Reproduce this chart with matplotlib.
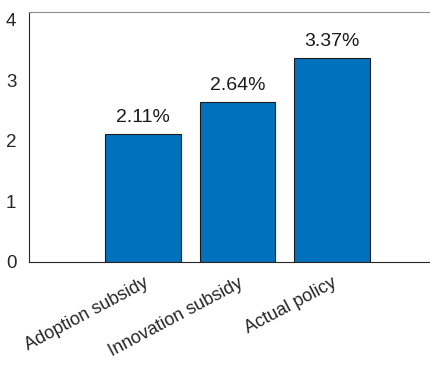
import matplotlib
matplotlib.use("Agg")
import matplotlib.pyplot as plt

# policy scenarios and values
labels = ["Adoption subsidy", "Innovation subsidy", "Actual policy"]
values = [2.11, 2.64, 3.37]
yticks = [0, 1, 2, 3, 4]

plt.rcParams['font.family'] = ['Liberation Sans', 'DejaVu Sans']

fig = plt.figure(figsize=(4.31, 3.66), dpi=100)
ax = fig.add_axes([29/431, 1 - 262/366, (445 - 29)/431, (262 - 12)/366])

x = [1, 2, 3]
ax.bar(x, values, width=0.8, color="#0072BD", edgecolor="#1a1a1a", linewidth=0.8)
for xi, v in zip(x, values):
    ax.text(xi, v + 0.14, "%.2f%%" % v, ha="center", va="bottom", fontsize=14, color="#1a1a1a")

ax.set_xlim(-0.21, 4.2)
ax.set_ylim(0, 4.13)
ax.set_yticks(yticks)
ax.set_xticks(x)
ax.set_xticklabels(labels, rotation=28, ha="right", rotation_mode="anchor", fontsize=13, color="#262626")
ax.tick_params(axis="both", length=0, colors="#262626")
ax.tick_params(axis="y", pad=9, labelsize=13.5)
ax.tick_params(axis="x", pad=9)

ax.spines["right"].set_visible(False)
ax.spines["top"].set_color("#8c8c8c")
ax.spines["left"].set_color("#262626")
ax.spines["bottom"].set_color("#262626")

fig.savefig("out.png", dpi=100)
